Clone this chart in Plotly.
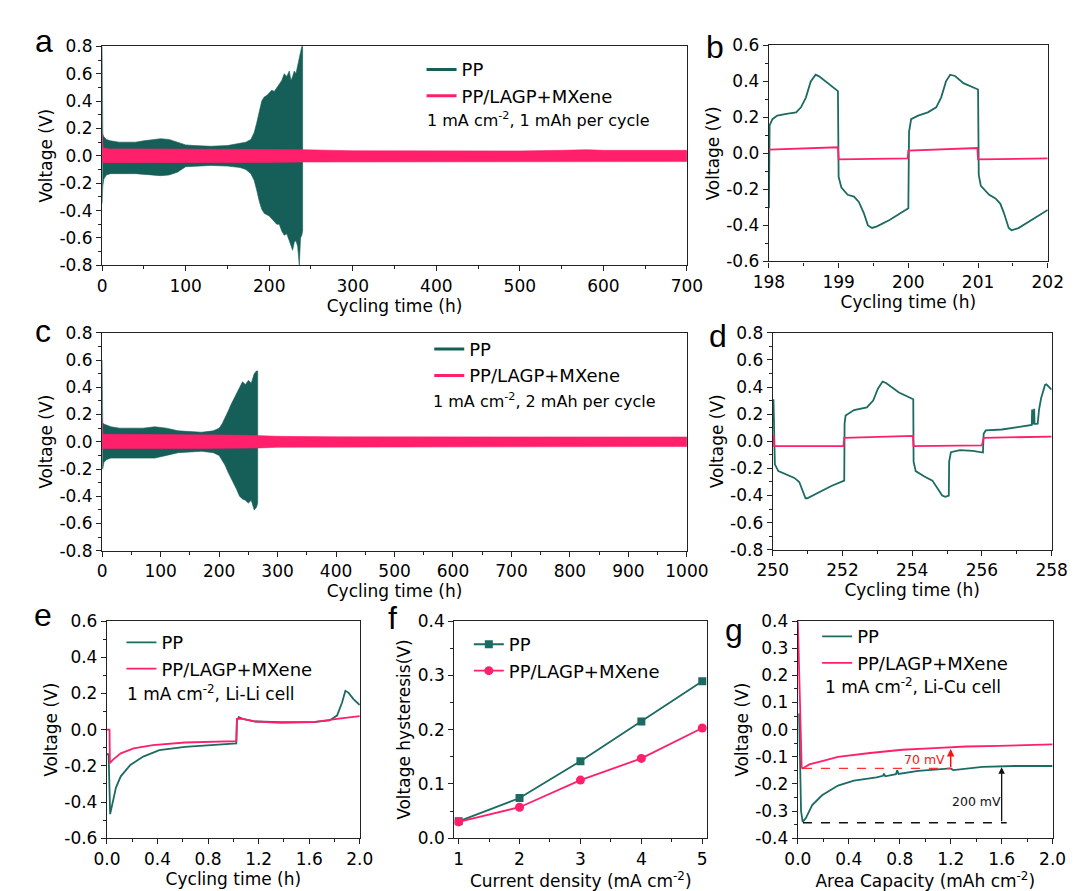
import plotly.graph_objects as go

W, H = 1083, 891
TEAL = "#1b6b63"
TEAL_BAND = "#165f58"
PINK = "#ff1f6b"
FONT = "DejaVu Sans, Liberation Sans, Arial, sans-serif"
LETTER_FONT = "Liberation Sans, Arial, sans-serif"
TXT = 17
LEG = 18

# ---------------- data ----------------
# (a) 1 mA cm-2, 1 mAh per cycle : envelope of the dense voltage oscillation
a_pp_t = [0, 0.8, 2, 5, 10, 20, 30, 40, 50, 60, 70, 80, 90, 100, 110, 130, 150, 165, 172, 178,
          182, 185, 188, 191, 194, 197, 200, 203, 206, 209, 212, 215, 218, 221, 224, 226, 228,
          230, 232, 234, 236, 237.5, 239, 240]
a_pp_hi = [0.80, 0.16, 0.14, 0.12, 0.11, 0.10, 0.10, 0.10, 0.11, 0.12, 0.125, 0.12, 0.10, 0.08,
           0.075, 0.07, 0.075, 0.09, 0.10, 0.12, 0.17, 0.24, 0.33, 0.40, 0.43, 0.44, 0.46, 0.48,
           0.47, 0.50, 0.52, 0.55, 0.60, 0.58, 0.62, 0.55, 0.58, 0.62, 0.60, 0.66, 0.70, 0.75,
           0.80, 0.80]
a_pp_lo = [-0.35, -0.22, -0.17, -0.14, -0.13, -0.13, -0.13, -0.13, -0.13, -0.14, -0.145, -0.14,
           -0.12, -0.08, -0.075, -0.07, -0.075, -0.085, -0.10, -0.13, -0.18, -0.25, -0.33, -0.39,
           -0.42, -0.43, -0.44, -0.46, -0.48, -0.50, -0.50, -0.55, -0.58, -0.57, -0.62, -0.66,
           -0.69, -0.63, -0.62, -0.66, -0.80, -0.60, -0.58, -0.55]
a_mx_t = [0, 1, 3, 10, 50, 100, 150, 200, 240, 300, 400, 500, 550, 580, 600, 650, 700]
a_mx_hi = [0.17, 0.06, 0.055, 0.05, 0.05, 0.05, 0.05, 0.05, 0.045, 0.037, 0.036, 0.036, 0.04,
           0.045, 0.04, 0.04, 0.04]
a_mx_lo = [-0.05, -0.05, -0.05, -0.05, -0.05, -0.05, -0.048, -0.048, -0.045, -0.042, -0.042,
           -0.045, -0.045, -0.045, -0.042, -0.042, -0.042]

# (b) zoom 198-202 h
b_pp_t = [198.0, 198.01, 198.05, 198.12, 198.25, 198.39, 198.46, 198.53, 198.6, 198.67, 198.72,
          198.81, 198.99, 199.0, 199.04, 199.13, 199.22, 199.29, 199.36, 199.42, 199.48, 199.55,
          199.73, 200.0, 200.01, 200.04, 200.14, 200.28, 200.4, 200.47, 200.54, 200.6, 200.67,
          200.79, 201.0, 201.01, 201.04, 201.16, 201.25, 201.32, 201.37, 201.44, 201.48, 201.58,
          202.0]
b_pp_v = [-0.305, 0.155, 0.19, 0.21, 0.22, 0.228, 0.256, 0.31, 0.40, 0.437, 0.428, 0.40, 0.346,
          -0.13, -0.19, -0.23, -0.24, -0.27, -0.33, -0.40, -0.414, -0.405, -0.37, -0.305, 0.12,
          0.19, 0.21, 0.228, 0.256, 0.31, 0.40, 0.437, 0.43, 0.39, 0.355, -0.12, -0.18, -0.23,
          -0.25, -0.28, -0.33, -0.414, -0.427, -0.415, -0.314]
b_mx_t = [198.0, 198.99, 199.0, 199.99, 200.0, 200.99, 201.0, 202.0]
b_mx_v = [0.021, 0.034, -0.033, -0.028, 0.015, 0.030, -0.033, -0.028]

# (c) 1 mA cm-2, 2 mAh per cycle
c_pp_t = [0, 1, 3, 8, 15, 30, 50, 70, 90, 110, 130, 150, 170, 190, 200, 205, 210, 215, 220, 225,
          230, 235, 240, 245, 250, 255, 260, 264, 266]
c_pp_hi = [0.60, 0.14, 0.13, 0.12, 0.11, 0.10, 0.10, 0.10, 0.11, 0.10, 0.08, 0.075, 0.07, 0.08,
           0.10, 0.13, 0.17, 0.22, 0.27, 0.31, 0.36, 0.40, 0.44, 0.42, 0.45, 0.43, 0.50, 0.52, 0.52]
c_pp_lo = [-0.20, -0.20, -0.15, -0.13, -0.12, -0.12, -0.12, -0.12, -0.12, -0.10, -0.08, -0.075,
           -0.07, -0.08, -0.10, -0.13, -0.17, -0.22, -0.27, -0.31, -0.35, -0.40, -0.42, -0.43,
           -0.45, -0.43, -0.50, -0.48, -0.45]
c_mx_t = [0, 1, 3, 50, 100, 150, 200, 270, 300, 400, 500, 600, 700, 800, 900, 1000]
c_mx_hi = [0.17, 0.06, 0.055, 0.055, 0.05, 0.05, 0.05, 0.045, 0.04, 0.036, 0.035, 0.035, 0.035,
           0.035, 0.035, 0.035]
c_mx_lo = [-0.05, -0.05, -0.05, -0.05, -0.05, -0.05, -0.05, -0.045, -0.04, -0.036, -0.035,
           -0.035, -0.035, -0.035, -0.035, -0.035]

# (d) zoom 250-258 h
d_pp_t = [250.02, 250.04, 250.06, 250.16, 250.39, 250.62, 250.76, 250.85, 250.94, 250.99, 251.22,
          251.68, 252.05, 252.06, 252.09, 252.33, 252.7, 252.88, 253.02, 253.15, 253.25, 253.62,
          254.03, 254.04, 254.1, 254.35, 254.58, 254.72, 254.86, 254.95, 255.05, 255.06, 255.11,
          255.37, 255.74, 256.03, 256.05, 256.11, 256.57, 257.03, 257.4, 257.43, 257.44, 257.46,
          257.5, 257.51, 257.54, 257.6, 257.64, 257.7, 257.81, 257.85, 258.0]
d_pp_v = [0.31, 0.0, -0.17, -0.22, -0.245, -0.27, -0.30, -0.36, -0.42, -0.42, -0.39, -0.33, -0.29,
          0.13, 0.19, 0.23, 0.25, 0.30, 0.39, 0.44, 0.43, 0.36, 0.31, -0.15, -0.22, -0.26, -0.29,
          -0.35, -0.40, -0.41, -0.40, -0.15, -0.08, -0.065, -0.07, -0.083, 0.055, 0.08, 0.087,
          0.105, 0.115, 0.12, 0.235, 0.125, 0.24, 0.128, 0.128, 0.13, 0.236, 0.32, 0.415, 0.42,
          0.38]
d_mx_t = [250.0, 250.03, 250.04, 252.03, 252.05, 254.02, 254.04, 256.0, 256.05, 258.0]
d_mx_v = [0.04, 0.04, -0.035, -0.035, 0.025, 0.04, -0.035, -0.03, 0.025, 0.035]

# (e) Li-Li cell, first cycle
e_pp_t = [0.0, 0.013, 0.025, 0.038, 0.071, 0.109, 0.185, 0.287, 0.414, 0.617, 0.871, 1.023, 1.028,
          1.043, 1.074, 1.175, 1.378, 1.632, 1.76, 1.82, 1.86, 1.886, 1.91, 1.95, 2.0]
e_pp_v = [-0.136, -0.136, -0.467, -0.43, -0.32, -0.258, -0.195, -0.149, -0.113, -0.095, -0.082,
          -0.076, 0.051, 0.069, 0.06, 0.045, 0.042, 0.042, 0.051, 0.078, 0.15, 0.215, 0.205, 0.169,
          0.136]
e_mx_t = [0.0, 0.02, 0.023, 0.046, 0.109, 0.211, 0.363, 0.617, 1.023, 1.028, 1.074, 1.175, 1.378,
          1.632, 1.82, 2.0]
e_mx_v = [0.0, 0.0, -0.185, -0.167, -0.131, -0.104, -0.085, -0.071, -0.064, 0.06, 0.06, 0.045,
          0.038, 0.042, 0.06, 0.075]

# (f) voltage hysteresis vs current density
f_current = [1, 2, 3, 4, 5]
f_pp = [0.031, 0.074, 0.142, 0.215, 0.289]
f_mx = [0.030, 0.057, 0.107, 0.147, 0.203]

# (g) Li-Cu cell
g_pp_c = [0.01, 0.025, 0.038, 0.063, 0.113, 0.19, 0.315, 0.44, 0.618, 0.668, 0.676, 0.686, 0.77,
          0.78, 0.79, 0.946, 1.2, 1.22, 1.45, 1.70, 2.0]
g_pp_v = [0.06, -0.30, -0.34, -0.326, -0.278, -0.242, -0.206, -0.188, -0.176, -0.17, -0.162,
          -0.172, -0.164, -0.15, -0.163, -0.152, -0.143, -0.149, -0.137, -0.134, -0.134]
g_mx_c = [0.0, 0.03, 0.038, 0.09, 0.19, 0.315, 0.567, 0.82, 1.07, 1.32, 1.58, 2.0]
g_mx_v = [0.40, -0.14, -0.143, -0.128, -0.116, -0.10, -0.086, -0.074, -0.068, -0.062, -0.06, -0.054]
g_red_level, g_red_x0, g_red_x1, g_red_top = -0.143, 0.04, 1.20, -0.071
g_blk_level, g_blk_x0, g_blk_x1, g_blk_top = -0.343, 0.04, 1.64, -0.139

# tick labels
v08 = [-0.8, -0.6, -0.4, -0.2, 0.0, 0.2, 0.4, 0.6, 0.8]
v08_txt = ["-0.8", "-0.6", "-0.4", "-0.2", "0.0", "0.2", "0.4", "0.6", "0.8"]
v06 = [-0.6, -0.4, -0.2, 0.0, 0.2, 0.4, 0.6]
v06_txt = ["-0.6", "-0.4", "-0.2", "0.0", "0.2", "0.4", "0.6"]
v04 = [-0.4, -0.3, -0.2, -0.1, 0.0, 0.1, 0.2, 0.3, 0.4]
v04_txt = ["-0.4", "-0.3", "-0.2", "-0.1", "0.0", "0.1", "0.2", "0.3", "0.4"]
f_y = [0.0, 0.1, 0.2, 0.3, 0.4]
f_y_txt = ["0.0", "0.1", "0.2", "0.3", "0.4"]
a_x = [0, 100, 200, 300, 400, 500, 600, 700]
b_x = [198, 199, 200, 201, 202]
c_x = [0, 100, 200, 300, 400, 500, 600, 700, 800, 900, 1000]
d_x = [250, 252, 254, 256, 258]
eg_x = [0.0, 0.4, 0.8, 1.2, 1.6, 2.0]
eg_x_txt = ["0.0", "0.4", "0.8", "1.2", "1.6", "2.0"]

# ---------------- layout helpers ----------------
def px_x(p):
    return p / W

def px_y(p):
    return 1 - p / H

def xdom(x0, x1):
    return [px_x(x0), px_x(x1)]

def ydom(y0, y1):
    return [px_y(y1), px_y(y0)]

def axis(domain, rng, tickvals, ticktext, minor_dtick, minor_tick0, anchor, title, standoff):
    return dict(
        domain=domain, range=rng, anchor=anchor,
        showline=True, linecolor="#222", linewidth=1.3, mirror=True,
        ticks="outside", ticklen=5, tickwidth=1.3, tickcolor="#222",
        tickmode="array", tickvals=tickvals, ticktext=ticktext,
        minor=dict(ticks="outside", ticklen=3, tickwidth=1.1, tickcolor="#222",
                   dtick=minor_dtick, tick0=minor_tick0, showgrid=False),
        showgrid=False, zeroline=False,
        tickfont=dict(family=FONT, size=TXT, color="black"),
        title=dict(text=title, font=dict(family=FONT, size=TXT, color="black"), standoff=standoff),
    )

def band(t, hi, lo, color, xa, ya):
    return go.Scatter(x=list(t) + list(t)[::-1], y=list(hi) + list(lo)[::-1],
                      fill="toself", fillcolor=color, mode="lines",
                      line=dict(color=color, width=0.6), showlegend=False,
                      xaxis=xa, yaxis=ya, hoverinfo="skip")

def curve(x, y, color, xa, ya, name=None, legend=None, width=1.8):
    return go.Scatter(x=x, y=y, mode="lines", line=dict(color=color, width=width),
                      xaxis=xa, yaxis=ya, name=name, legend=legend,
                      showlegend=legend is not None)

def legend_only(name, color, legend, width):
    return go.Scatter(x=[None], y=[None], mode="lines", line=dict(color=color, width=width),
                      name=name, legend=legend, showlegend=True, xaxis="x", yaxis="y")

fig = go.Figure()

# (a)
fig.add_trace(band(a_pp_t, a_pp_hi, a_pp_lo, TEAL_BAND, "x", "y"))
fig.add_trace(band(a_mx_t, a_mx_hi, a_mx_lo, PINK, "x", "y"))
fig.add_trace(legend_only("PP", TEAL_BAND, "legend", 3))
fig.add_trace(legend_only("PP/LAGP+MXene", PINK, "legend", 3))
# (b)
fig.add_trace(curve(b_pp_t, b_pp_v, TEAL, "x2", "y2"))
fig.add_trace(curve(b_mx_t, b_mx_v, PINK, "x2", "y2"))
# (c)
fig.add_trace(band(c_pp_t, c_pp_hi, c_pp_lo, TEAL_BAND, "x3", "y3"))
fig.add_trace(band(c_mx_t, c_mx_hi, c_mx_lo, PINK, "x3", "y3"))
fig.add_trace(legend_only("PP", TEAL_BAND, "legend2", 3))
fig.add_trace(legend_only("PP/LAGP+MXene", PINK, "legend2", 3))
# (d)
fig.add_trace(curve(d_pp_t, d_pp_v, TEAL, "x4", "y4"))
fig.add_trace(curve(d_mx_t, d_mx_v, PINK, "x4", "y4"))
# (e)
fig.add_trace(curve(e_pp_t, e_pp_v, TEAL, "x5", "y5", "PP", "legend3"))
fig.add_trace(curve(e_mx_t, e_mx_v, PINK, "x5", "y5", "PP/LAGP+MXene", "legend3"))
# (f)
fig.add_trace(go.Scatter(x=f_current, y=f_pp, mode="lines+markers", name="PP",
                         line=dict(color=TEAL, width=1.8),
                         marker=dict(symbol="square", size=8, color=TEAL),
                         xaxis="x6", yaxis="y6", legend="legend4"))
fig.add_trace(go.Scatter(x=f_current, y=f_mx, mode="lines+markers", name="PP/LAGP+MXene",
                         line=dict(color=PINK, width=1.8),
                         marker=dict(symbol="circle", size=9, color=PINK),
                         xaxis="x6", yaxis="y6", legend="legend4"))
# (g)
fig.add_trace(curve(g_pp_c, g_pp_v, TEAL, "x7", "y7", "PP", "legend5"))
fig.add_trace(curve(g_mx_c, g_mx_v, PINK, "x7", "y7", "PP/LAGP+MXene", "legend5"))

VT = "Voltage (V)"
CT = "Cycling time (h)"
R3 = (617, 839)  # top / bottom pixel rows of the third row of panels

layout = dict(
    width=W, height=H, autosize=False,
    margin=dict(l=0, r=0, t=0, b=0),
    paper_bgcolor="white", plot_bgcolor="white",
    font=dict(family=FONT, size=TXT, color="black"),
    xaxis=axis(xdom(81, 687), [0, 700], a_x, [str(v) for v in a_x], 50, 0, "y", CT, 0),
    yaxis=axis(ydom(29, 253), [-0.8, 0.8], v08, v08_txt, 0.1, 0, "x", VT, 2),
    xaxis2=axis(xdom(772, 1061), [198, 202], b_x, [str(v) for v in b_x], 0.5, 198, "y2", CT, 0),
    yaxis2=axis(ydom(28, 249), [-0.6, 0.6], v06, v06_txt, 0.1, 0, "x2", VT, 2),
    xaxis3=axis(xdom(81, 687), [0, 1000], c_x, [str(v) for v in c_x], 50, 0, "y3", CT, 0),
    yaxis3=axis(ydom(322, 545), [-0.8, 0.8], v08, v08_txt, 0.1, 0, "x3", VT, 2),
    xaxis4=axis(xdom(776, 1065), [250, 258], d_x, [str(v) for v in d_x], 1, 250, "y4", CT, 0),
    yaxis4=axis(ydom(322, 544), [-0.8, 0.8], v08, v08_txt, 0.1, 0, "x4", VT, 2),
    xaxis5=axis(xdom(86, 348), [0, 2], eg_x, eg_x_txt, 0.2, 0, "y5", CT, 0),
    yaxis5=axis(ydom(*R3), [-0.6, 0.6], v06, v06_txt, 0.1, 0, "x5", VT, 2),
    xaxis6=axis(xdom(446, 708), [0.93, 5.08], f_current, [str(v) for v in f_current], 0.5, 0.5,
                "y6", "Current density (mA cm<sup>-2</sup>)", 0),
    yaxis6=axis(ydom(*R3), [0, 0.4], f_y, f_y_txt, 0.05, 0, "x6", "Voltage hysteresis(V)", 2),
    xaxis7=axis(xdom(802, 1066), [0, 2], eg_x, eg_x_txt, 0.2, 0, "y7",
                "Area Capacity (mAh cm<sup>-2</sup>)", 0),
    yaxis7=axis(ydom(*R3), [-0.4, 0.4], v04, v04_txt, 0.05, 0, "x7", VT, 2),
)

def legend_box(x_px, y_px):
    return dict(x=px_x(x_px), y=px_y(y_px), xanchor="left", yanchor="top",
                bgcolor="rgba(0,0,0,0)", borderwidth=0, itemwidth=30, tracegroupgap=0,
                font=dict(family=FONT, size=LEG, color="black"), traceorder="normal")

layout["legend"] = legend_box(412, 34)
layout["legend2"] = legend_box(420, 320)
layout["legend3"] = legend_box(101, 620)
layout["legend4"] = legend_box(461, 622)
layout["legend5"] = legend_box(822, 614)

annotations = []

def note(text, x_px, y_px, size=TXT, color="black", xanchor="left", family=FONT):
    annotations.append(dict(text=text, x=px_x(x_px), y=px_y(y_px), xref="paper", yref="paper",
                            xanchor=xanchor, yanchor="middle", showarrow=False,
                            font=dict(family=family, size=size, color=color)))

note("1 mA cm<sup>-2</sup>, 1 mAh per cycle", 416, 104, size=16)
note("1 mA cm<sup>-2</sup>, 2 mAh per cycle", 422, 391, size=16)
note("1 mA cm<sup>-2</sup>, Li-Li cell", 105, 691, size=17)
note("1 mA cm<sup>-2</sup>, Li-Cu cell", 828, 683, size=17)

for lab, xp, yp in [("a", 21, 24), ("b", 716, 30), ("c", 20, 320), ("d", 719, 325),
                    ("e", 20, 611), ("f", 382, 614), ("g", 736, 626)]:
    note(lab, xp, yp, size=32, xanchor="center", family=LETTER_FONT)

# (g) annotations: hysteresis differences
annotations.append(dict(x=g_red_x1, y=g_red_top, ax=g_red_x1, ay=g_red_level, xref="x7", yref="y7",
                        axref="x7", ayref="y7", showarrow=True, arrowhead=2, arrowsize=1,
                        arrowwidth=1.5, arrowcolor="#ff1010", text=""))
annotations.append(dict(x=g_blk_x1 - 0.04, y=g_blk_top, ax=g_blk_x1 - 0.04, ay=g_blk_level,
                        xref="x7", yref="y7", axref="x7", ayref="y7", showarrow=True,
                        arrowhead=2, arrowsize=1, arrowwidth=1.3, arrowcolor="#111", text=""))
annotations.append(dict(text="70 mV", x=1.17, y=-0.109, xref="x7", yref="y7", xanchor="right",
                        showarrow=False, font=dict(family=FONT, size=12.5, color="#ff1010")))
annotations.append(dict(text="200 mV", x=1.40, y=-0.264, xref="x7", yref="y7", showarrow=False,
                        font=dict(family=FONT, size=12.5, color="#111")))
layout["annotations"] = annotations

layout["shapes"] = [
    dict(type="line", xref="x7", yref="y7", x0=g_red_x0, x1=g_red_x1, y0=g_red_level,
         y1=g_red_level, line=dict(color="#ff3030", width=1.2, dash="dash")),
    dict(type="line", xref="x7", yref="y7", x0=g_blk_x0, x1=g_blk_x1, y0=g_blk_level,
         y1=g_blk_level, line=dict(color="#111", width=1.6, dash="dash")),
]

fig.update_layout(**layout)
fig.write_html("out.html")
